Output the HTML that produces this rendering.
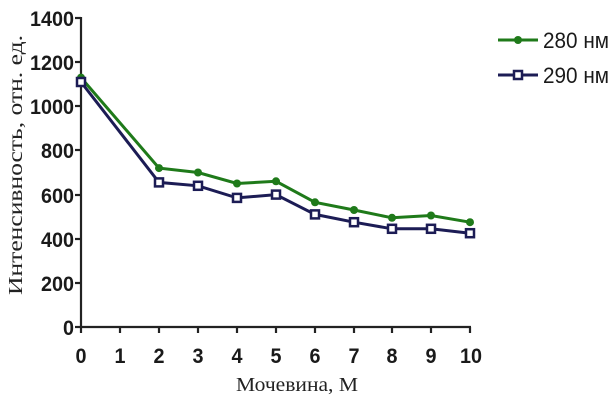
<!DOCTYPE html>
<html><head><meta charset="utf-8"><style>
body{margin:0;background:#fff;}
svg{display:block}
.t{font-family:"Liberation Sans",sans-serif;font-weight:bold;font-size:21px;fill:#1a1a1a}
.s{font-family:"Liberation Serif",serif;font-size:20px;fill:#222}
</style></head><body>
<svg width="616" height="404" viewBox="0 0 616 404" xmlns="http://www.w3.org/2000/svg">
<rect width="616" height="404" fill="#fff"/>
<g stroke="#222" stroke-width="2.2">
<line x1="81" y1="17" x2="81" y2="328"/>
<line x1="80" y1="327" x2="471" y2="327"/>
<g>
<line x1="75" y1="18" x2="81" y2="18"/><line x1="75" y1="62" x2="81" y2="62"/><line x1="75" y1="106" x2="81" y2="106"/><line x1="75" y1="150" x2="81" y2="150"/><line x1="75" y1="195" x2="81" y2="195"/><line x1="75" y1="239" x2="81" y2="239"/><line x1="75" y1="283" x2="81" y2="283"/><line x1="75" y1="327" x2="81" y2="327"/>
</g>
<g>
<line x1="81" y1="327" x2="81" y2="333"/><line x1="120" y1="327" x2="120" y2="333"/><line x1="159" y1="327" x2="159" y2="333"/><line x1="198" y1="327" x2="198" y2="333"/><line x1="237" y1="327" x2="237" y2="333"/><line x1="276" y1="327" x2="276" y2="333"/><line x1="315" y1="327" x2="315" y2="333"/><line x1="354" y1="327" x2="354" y2="333"/><line x1="392" y1="327" x2="392" y2="333"/><line x1="431" y1="327" x2="431" y2="333"/><line x1="470" y1="327" x2="470" y2="333"/>
</g>
</g>
<g class="t" text-anchor="end">
<text x="74" y="26" textLength="44" lengthAdjust="spacingAndGlyphs">1400</text>
<text x="74" y="70" textLength="44" lengthAdjust="spacingAndGlyphs">1200</text>
<text x="74" y="114" textLength="44" lengthAdjust="spacingAndGlyphs">1000</text>
<text x="74" y="158" textLength="33" lengthAdjust="spacingAndGlyphs">800</text>
<text x="74" y="203" textLength="33" lengthAdjust="spacingAndGlyphs">600</text>
<text x="74" y="247" textLength="33" lengthAdjust="spacingAndGlyphs">400</text>
<text x="74" y="291" textLength="33" lengthAdjust="spacingAndGlyphs">200</text>
<text x="74" y="335" textLength="11" lengthAdjust="spacingAndGlyphs">0</text>
</g>
<g class="t" text-anchor="middle">
<text x="81" y="363" textLength="11" lengthAdjust="spacingAndGlyphs">0</text><text x="120" y="363" textLength="11" lengthAdjust="spacingAndGlyphs">1</text><text x="159" y="363" textLength="11" lengthAdjust="spacingAndGlyphs">2</text><text x="198" y="363" textLength="11" lengthAdjust="spacingAndGlyphs">3</text><text x="237" y="363" textLength="11" lengthAdjust="spacingAndGlyphs">4</text><text x="276" y="363" textLength="11" lengthAdjust="spacingAndGlyphs">5</text><text x="315" y="363" textLength="11" lengthAdjust="spacingAndGlyphs">6</text><text x="354" y="363" textLength="11" lengthAdjust="spacingAndGlyphs">7</text><text x="392" y="363" textLength="11" lengthAdjust="spacingAndGlyphs">8</text><text x="431" y="363" textLength="11" lengthAdjust="spacingAndGlyphs">9</text><text x="471" y="363" textLength="22" lengthAdjust="spacingAndGlyphs">10</text>
</g>
<text class="s" x="297" y="391" text-anchor="middle" textLength="122" lengthAdjust="spacingAndGlyphs" font-size="21">Мочевина, М</text>
<text class="s" transform="translate(22,165) rotate(-90)" text-anchor="middle" textLength="260" lengthAdjust="spacingAndGlyphs">Интенсивность, отн. ед.</text>
<polyline fill="none" stroke="#1f7a1a" stroke-width="3" points="81,77.6 159,168.1 198,172.5 237,183.5 276,181.3 315,202.3 354,210 392,217.8 431,215.5 470,222.2"/>
<g fill="#1f7a1a">
<circle cx="81" cy="77.6" r="4"/><circle cx="159" cy="168.1" r="4"/><circle cx="198" cy="172.5" r="4"/><circle cx="237" cy="183.5" r="4"/><circle cx="276" cy="181.3" r="4"/><circle cx="315" cy="202.3" r="4"/><circle cx="354" cy="210" r="4"/><circle cx="392" cy="217.8" r="4"/><circle cx="431" cy="215.5" r="4"/><circle cx="470" cy="222.2" r="4"/>
</g>
<polyline fill="none" stroke="#1c1c55" stroke-width="3" points="81,82 159,182.4 198,185.8 237,197.9 276,194.6 315,214.4 354,222.2 392,228.8 431,228.8 470,233.2"/>
<g fill="#fff" stroke="#1c1c55" stroke-width="2.5">
<rect x="77" y="78" width="8" height="8"/><rect x="155" y="178.4" width="8" height="8"/><rect x="194" y="181.8" width="8" height="8"/><rect x="233" y="193.9" width="8" height="8"/><rect x="272" y="190.6" width="8" height="8"/><rect x="311" y="210.4" width="8" height="8"/><rect x="350" y="218.2" width="8" height="8"/><rect x="388" y="224.8" width="8" height="8"/><rect x="427" y="224.8" width="8" height="8"/><rect x="466" y="229.2" width="8" height="8"/>
</g>
<line x1="498" y1="40" x2="538" y2="40" stroke="#1f7a1a" stroke-width="3"/>
<circle cx="518" cy="40" r="4" fill="#1f7a1a"/>
<line x1="498" y1="75" x2="538" y2="75" stroke="#1c1c55" stroke-width="3"/>
<rect x="514" y="71" width="8" height="8" fill="#fff" stroke="#1c1c55" stroke-width="2.5"/>
<g font-family="Liberation Sans,sans-serif" font-size="22" fill="#1a1a1a">
<text x="543" y="48" textLength="66" lengthAdjust="spacingAndGlyphs">280 нм</text>
<text x="543" y="83" textLength="66" lengthAdjust="spacingAndGlyphs">290 нм</text>
</g>
</svg>
</body></html>
